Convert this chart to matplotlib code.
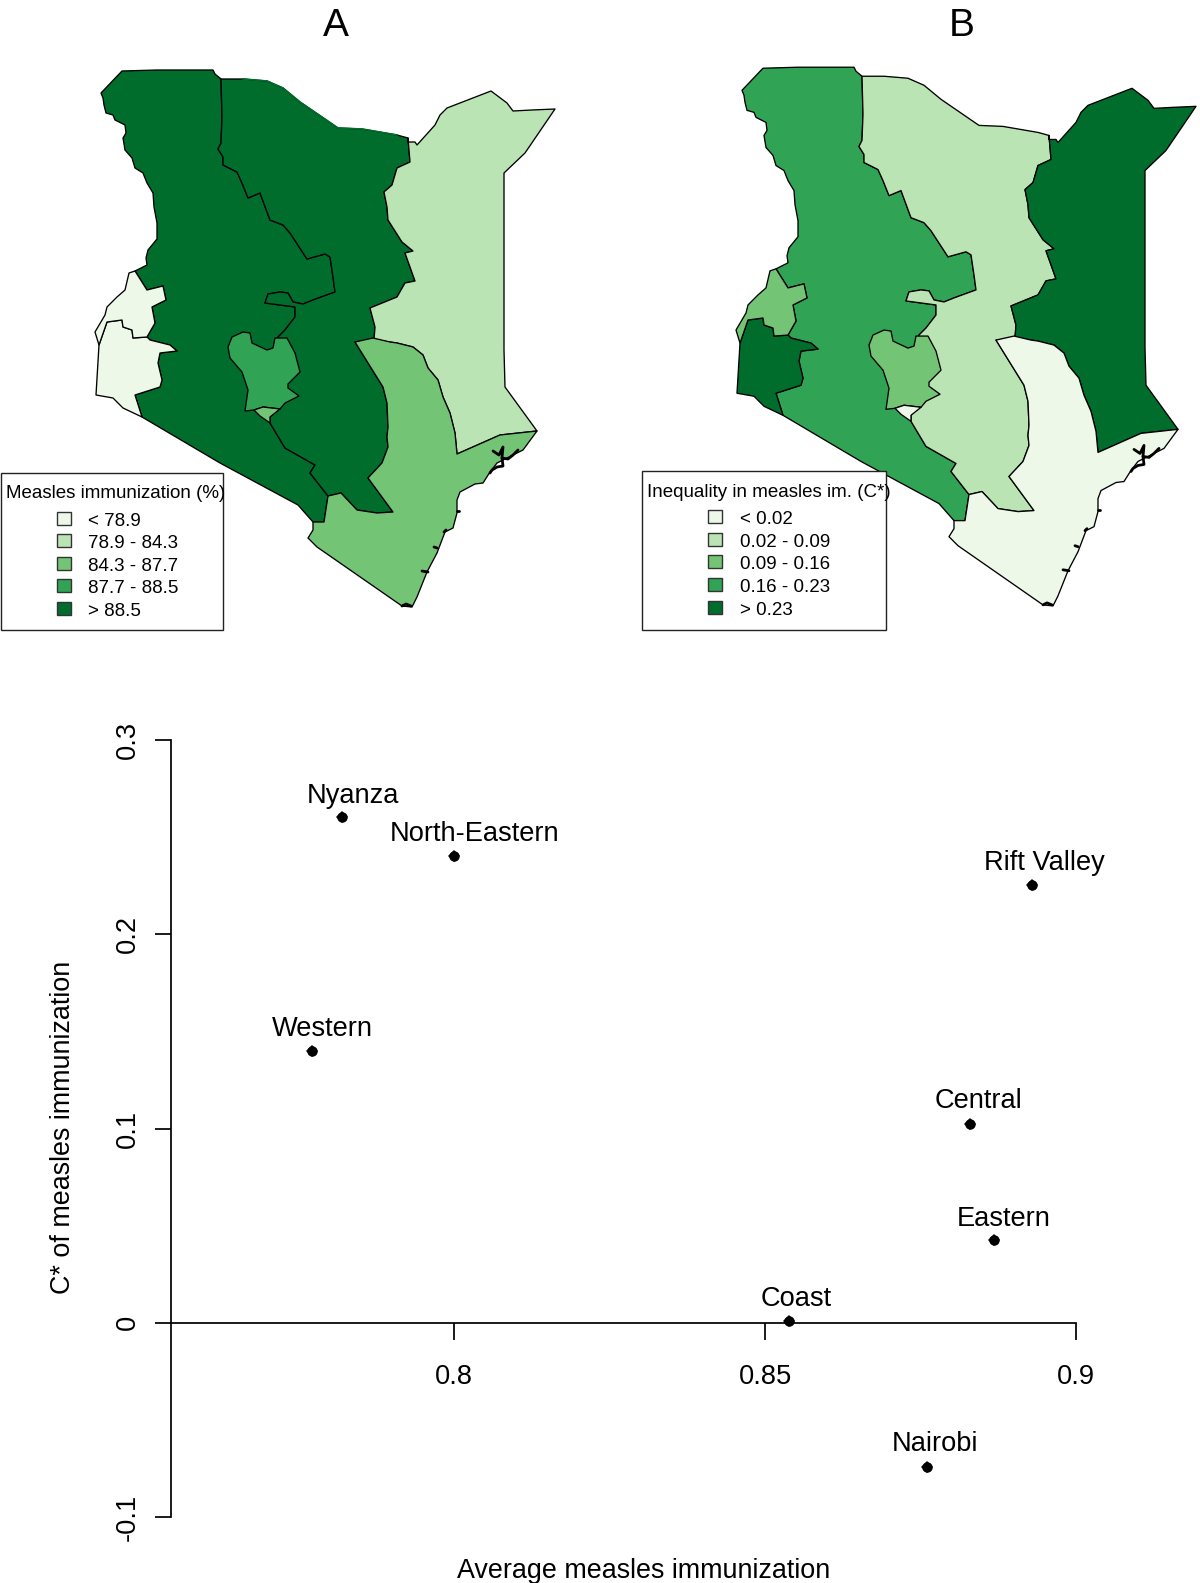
#!/bin/python

import matplotlib
matplotlib.use('Agg')
import matplotlib.pyplot as plt
from matplotlib.patches import Polygon, Rectangle

plt.rcParams['font.family'] = ['Liberation Sans', 'DejaVu Sans']

W, H = 1200, 1583

greens = ['#edf8e9', '#bae4b3', '#74c476', '#31a354', '#006d2c']

# map outlines
rift = [(122,71),(157,70),(213,70),(215,74),(221,79),(222,117),(221,143),(218,149),(223,157),(223,165),
        (237,172),(242,183),(248,198),(260,193),(270,220),(283,225),(290,233),(307,259),(325,254),(330,257),
        (333,277),(335,292),(313,300),(303,304),(293,302),(288,293),(280,292),(268,294),(265,303),(295,307),
        (295,317),(285,330),(278,337),(270,417),(270,423),(285,448),(315,465),(310,473),(328,496),(324,522),
        (313,522),(298,505),(220,463),(142,417),(135,395),(160,387),(162,380),(158,363),(160,353),(177,351),
        (170,345),(150,340),(147,337),(155,323),(152,307),(166,300),(163,286),(147,290),(135,271),(147,265),
        (146,258),(148,250),(157,239),(157,223),(154,207),(153,193),(147,183),(143,173),(135,168),(132,158),
        (125,150),(123,138),(126,133),(125,125),(115,120),(113,115),(106,113),(104,105),(103,98),(101,93)]
eastern = [(221,79),(243,79),(267,81),(283,88),(300,102),(338,128),(362,129),(397,135),(408,138),(410,162),
           (397,168),(392,185),(384,192),(387,207),(388,220),(402,242),(413,251),(405,253),(415,281),(405,283),
           (397,297),(370,308),(375,327),(374,340),(355,342),(383,387),(387,403),(388,427),(387,437),(388,447),
           (382,463),(368,478),(393,512),(377,513),(357,510),(341,493),(328,496),(310,473),(315,465),(285,448),
           (270,423),(270,417),(278,337),(285,330),(295,317),(295,307),(265,303),(268,294),(280,292),(288,293),
           (293,302),(303,304),(313,300),(335,292),(333,277),(330,257),(325,254),(307,259),(290,233),(283,225),
           (270,220),(260,193),(248,198),(242,183),(237,172),(223,165),(223,157),(218,149),(221,143),(222,117)]
north_eastern = [(408,138),(408,142),(415,142),(417,145),(435,125),(440,115),(447,108),(491,91),(507,103),(513,111),
                 (532,110),(555,109),(525,153),(504,173),(504,350),(505,387),(537,431),(500,435),(457,454),(455,433),
                 (450,413),(443,397),(438,380),(428,368),(423,355),(413,347),(397,343),(390,342),(374,340),(375,327),
                 (370,308),(397,297),(405,283),(415,281),(405,253),(413,251),(402,242),(388,220),(387,207),(384,192),
                 (392,185),(397,168),(410,162)]
coast = [(355,342),(373,338),(390,342),(397,343),(413,347),(423,355),(428,368),(438,380),(443,397),(450,413),
         (455,433),(457,454),(500,435),(537,431),(523,450),(513,455),(497,463),(490,472),(483,483),(475,484),
         (460,492),(457,500),(457,513),(453,528),(445,532),(437,553),(427,572),(417,597),(412,607),(402,606),
         (317,547),(308,538),(313,530),(313,522),(324,522),(328,496),(341,493),(357,510),(377,513),(393,512),
         (368,478),(382,463),(388,447),(387,437),(388,427),(387,403),(383,387)]
nyanza = [(107,322),(122,320),(123,327),(132,330),(133,338),(147,337),(150,340),(170,345),(177,351),(160,353),
          (158,363),(162,380),(160,387),(135,395),(142,417),(123,408),(113,398),(96,395),(99,345)]
western = [(135,271),(147,290),(163,286),(166,300),(152,307),(155,323),(147,337),(133,338),(132,330),(123,327),
           (122,320),(107,322),(99,345),(95,332),(105,315),(107,307),(117,297),(125,290),(129,273)]
central = [(228,347),(232,337),(243,332),(250,333),(252,343),(267,350),(273,348),(275,338),(287,338),(295,353),
           (300,372),(288,384),(288,388),(299,396),(285,403),(280,409),(263,407),(254,410),(245,411),(248,390),
           (242,372),(230,358)]
nairobi = [(254,410),(263,407),(280,409),(270,417),(270,423),(260,416)]

regions = [rift, eastern, north_eastern, coast, nyanza, western, central, nairobi]
class_a = [4, 4, 1, 2, 0, 0, 3, 2]
class_b = [3, 1, 4, 0, 4, 2, 2, 0]

eastern_top = [(243,79),(267,81),(283,88),(300,102),(338,128),(362,129),(397,135)]

# little inlets along the shore
shore_marks = [[(493,451),(499,455),(503,447),(502,458),(508,459),(513,455),(518,450)],
               [(502,458),(503,466),(497,467),(492,470),(490,473)],
               [(457,511),(459,511)],
               [(444,532),(446,530)],
               [(434,547),(437,548)],
               [(422,571),(428,572)],
               [(402,606),(406,604),(411,606)]]

legend_title_a = 'Measles immunization (%)'
legend_title_b = 'Inequality in measles im. (C*)'
legend_labels_a = ['< 78.9', '78.9 - 84.3', '84.3 - 87.7', '87.7 - 88.5', '> 88.5']
legend_labels_b = ['< 0.02', '0.02 - 0.09', '0.09 - 0.16', '0.16 - 0.23', '> 0.23']

provinces = ['Nyanza', 'North-Eastern', 'Western', 'Rift Valley', 'Central', 'Eastern', 'Coast', 'Nairobi']
avg_immun = [0.782, 0.800, 0.7771, 0.8929, 0.8829, 0.8868, 0.8539, 0.8760]
cstar = [0.2602, 0.2402, 0.1398, 0.2256, 0.1021, 0.0426, 0.0007, -0.0743]
label_dx = [11, 21, 11, 13, 9, 10, 7, 8]
label_dy = [21, 22, 22, 22, 23, 21, 22, 23]

x_ticks = [0.8, 0.85, 0.9]
x_ticklabels = ['0.8', '0.85', '0.9']
y_ticks = [-0.1, 0, 0.1, 0.2, 0.3]
y_ticklabels = ['-0.1', '0', '0.1', '0.2', '0.3']


def px_axes(fig, left, top, width, height):
    return fig.add_axes([left / W, 1 - (top + height) / H, width / W, height / H])


def draw_map(ax, classes):
    for poly, c in zip(regions, classes):
        ax.add_patch(Polygon(poly, closed=True, facecolor=greens[c], edgecolor='black', lw=0.95, joinstyle='round'))
    for m in shore_marks:
        ax.plot([p[0] for p in m], [p[1] for p in m], color='black', lw=2.0, solid_capstyle='round')


def draw_legend(ax, box, title, title_x, title_y, labels, sq_x, sq_ys, text_x):
    x0, y0, x1, y1 = box
    ax.add_patch(Rectangle((x0, y0), x1 - x0, y1 - y0, facecolor='white', edgecolor='#222222', lw=1.0))
    ax.text(title_x, title_y, title, fontsize=13.5, ha='left', va='center')
    for i in range(len(labels)):
        ax.add_patch(Rectangle((sq_x, sq_ys[i] - 6.5), 14, 13, facecolor=greens[i], edgecolor='#333333', lw=1.0))
        ax.text(text_x, sq_ys[i] + 3, labels[i], fontsize=13.5, ha='left', va='center')


fig = plt.figure(figsize=(W / 100, H / 100), dpi=100)

ax_a = px_axes(fig, 0, 0, 600, 640)
ax_a.set_xlim(0, 600)
ax_a.set_ylim(640, 0)
ax_a.axis('off')
draw_map(ax_a, class_a)
ax_a.plot([p[0] for p in eastern_top], [p[1] for p in eastern_top], color=greens[4], lw=1.2)

ax_b = px_axes(fig, 641, -3, 558, 642)
ax_b.set_xlim(0, 558)
ax_b.set_ylim(640, 0)
ax_b.axis('off')
draw_map(ax_b, class_b)

# legends sit on top, in figure pixels
ax_top = px_axes(fig, 0, 0, W, H)
ax_top.set_xlim(0, W)
ax_top.set_ylim(H, 0)
ax_top.axis('off')
ax_top.patch.set_alpha(0)
draw_legend(ax_top, (1, 473, 223, 630), legend_title_a, 6, 493, legend_labels_a,
            57, [518.3, 540.7, 563.3, 585.7, 608.7], 87.7)
draw_legend(ax_top, (642, 471, 886, 630), legend_title_b, 646.7, 492, legend_labels_b,
            708, [516.7, 539.3, 561.7, 584.3, 607.7], 740)
ax_top.text(336, 26, 'A', fontsize=28, ha='center', va='center')
ax_top.text(962, 26, 'B', fontsize=28, ha='center', va='center')

# scatter
ax = px_axes(fig, 171, 740, 905, 777)
ax.set_xlim(0.7545, 0.9)
ax.set_ylim(-0.1, 0.3)
ax.patch.set_alpha(0)
for s in ['top', 'right']:
    ax.spines[s].set_visible(False)
ax.spines['left'].set_linewidth(1.25)
ax.spines['bottom'].set_position(('data', 0))
ax.spines['bottom'].set_linewidth(1.25)
ax.plot(avg_immun, cstar, 'o', color='black', ms=7.5, mew=0, clip_on=False)
ax.plot(avg_immun, cstar, 'D', color='black', ms=6.5, mew=0, clip_on=False)
for i in range(len(provinces)):
    ax.annotate(provinces[i], (avg_immun[i], cstar[i]), xytext=(label_dx[i] * 0.72, label_dy[i] * 0.72),
                textcoords='offset points', ha='center', va='center', fontsize=19.6)
ax.set_xticks(x_ticks)
ax.set_xticklabels(x_ticklabels, fontsize=19.6)
ax.set_yticks(y_ticks)
ax.set_yticklabels(y_ticklabels, fontsize=19.6, rotation=90, va='center')
ax.tick_params(axis='x', length=12, width=1.25, pad=18)
ax.tick_params(axis='y', length=11.5, width=1.25, pad=10.5)

ax_top.text(644, 1571, 'Average measles immunization', fontsize=19.4, ha='center', va='center')
ax_top.text(63.5, 1127, 'C* of measles immunization', fontsize=19.4, ha='center', va='center', rotation=90)

fig.savefig('out.png', dpi=100)
